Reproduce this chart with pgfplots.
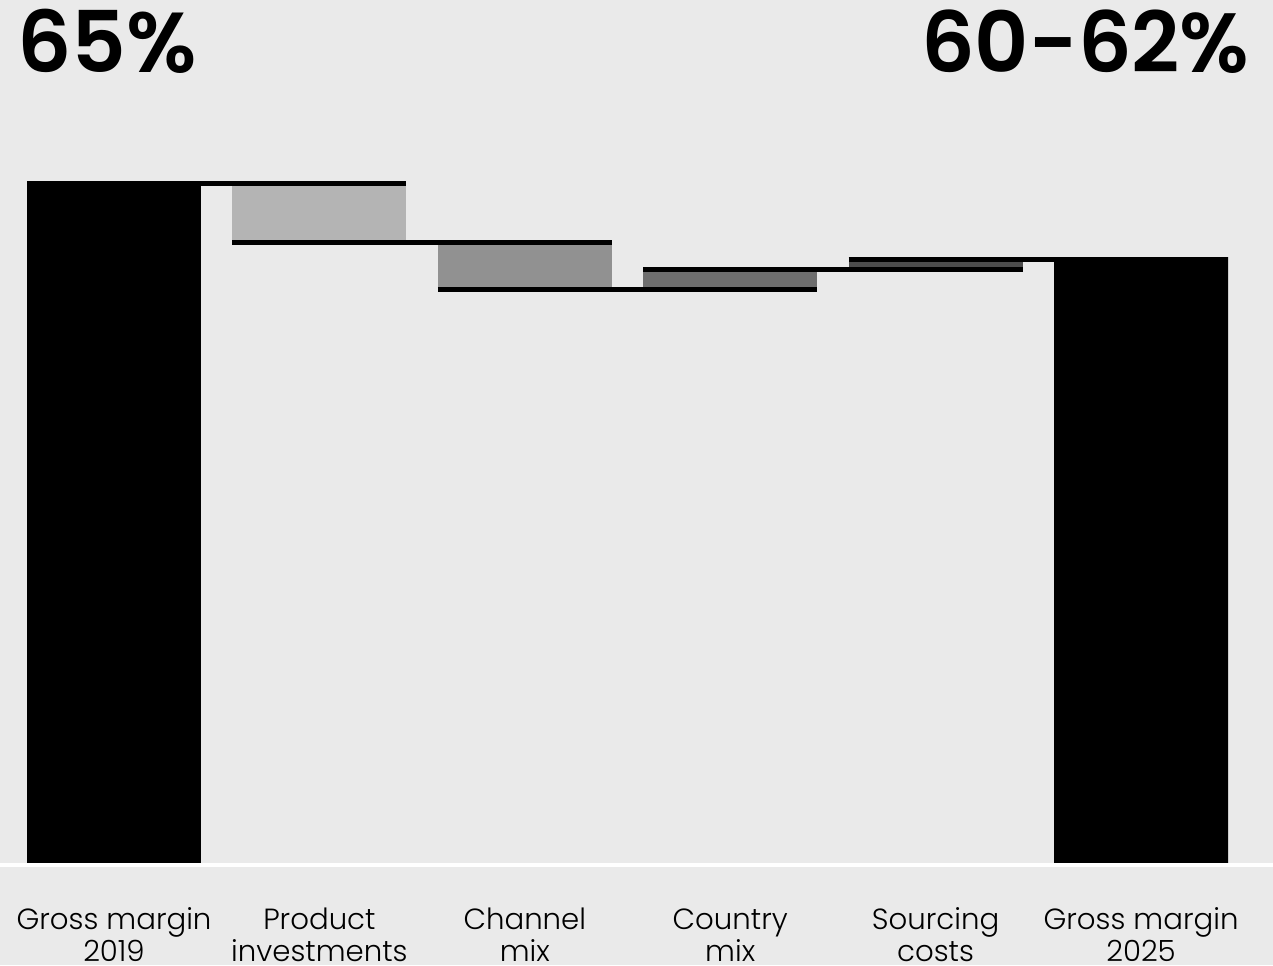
\documentclass[border=0pt]{standalone}
\usepackage{pgfplots}
\usepackage{pgfplotstable}
\pgfplotsset{compat=1.18}
\usetikzlibrary{backgrounds}
\usepackage{fontspec}
\setmainfont{Poppins}[UprightFont={* Light}, BoldFont={* SemiBold}]

\definecolor{bg}{RGB}{234,234,234}
\definecolor{prodc}{RGB}{180,180,180}
\definecolor{chanc}{RGB}{145,145,145}
\definecolor{ctryc}{RGB}{110,110,110}
\definecolor{srcc}{RGB}{76,76,76}

% waterfall: invisible base + visible segment per category (gross margin, %)
\pgfplotstableread{
x base  total prod chan ctry src
0 0     65    0    0    0    0
1 61.1  0     3.9  0    0    0
2 58.05 0     0    3.05 0    0
3 58.05 0     0    0    1.3  0
4 59.35 0     0    0    0    0.65
5 0     60    0    0    0    0
}\bridge

\begin{document}
\begin{tikzpicture}
\pgfplotsset{gm/.style={
  scale only axis,
  width=636.5pt, height=431pt,
  xmin=-0.555, xmax=5.6426, ymin=20, ymax=77,
}}

\begin{axis}[gm,
  ybar stacked, bar width=0.847,
  axis line style={draw=none}, major tick length=0pt,
  ytick=\empty, xtick={0,...,5},
  xticklabels={Gross margin\\2019, Product\\investments, Channel\\mix,
               Country\\mix, Sourcing\\costs, Gross margin\\2025},
  xticklabel style={align=center, anchor=base, yshift=-49.85pt,
    font=\fontsize{14.6}{16.2}\selectfont},
]
\addplot[draw=none, fill=none] table[x=x, y=base] {\bridge};
\addplot[draw=none, fill=black] table[x=x, y=total] {\bridge};
\addplot[draw=none, fill=prodc] table[x=x, y=prod] {\bridge};
\addplot[draw=none, fill=chanc] table[x=x, y=chan] {\bridge};
\addplot[draw=none, fill=ctryc] table[x=x, y=ctry] {\bridge};
\addplot[draw=none, fill=srcc] table[x=x, y=src] {\bridge};
\end{axis}

% step connectors at each running level
\begin{axis}[gm, hide axis]
\addplot[black, no markers, line width=2.5pt, yshift=-1.25pt] coordinates {(-0.4235,65)    (1.4235,65)};
\addplot[black, no markers, line width=2.5pt, yshift=-1.25pt] coordinates {(0.5765,61.1)   (2.4235,61.1)};
\addplot[black, no markers, line width=2.5pt, yshift=-1.25pt] coordinates {(1.5765,58.05)  (3.4235,58.05)};
\addplot[black, no markers, line width=2.5pt, yshift=-1.25pt] coordinates {(2.5765,59.35)  (4.4235,59.35)};
\addplot[black, no markers, line width=2.5pt, yshift=-1.25pt] coordinates {(3.5765,60)     (5.4235,60)};
\end{axis}

\begin{scope}[shift={(current axis.south west)}, x=1pt, y=1pt]
  \begin{pgfonlayer}{background}
    \fill[bg] (0,-51.5) rectangle (636.5,431);
  \end{pgfonlayer}
  \draw[white, line width=2.25pt] (0,-1.5) -- (636.5,-1.5);
  \node[anchor=base west, inner sep=0pt, font=\bfseries\fontsize{42.5}{42.5}\selectfont]
    at (8.5,394.65) {65\%};
  \node[anchor=base east, inner sep=0pt, font=\bfseries\fontsize{42}{42}\selectfont]
    at (625,394.65) {60-62\%};
  \pgfresetboundingbox
  \useasboundingbox (0,-51.5) rectangle (636.5,431);
\end{scope}
\end{tikzpicture}
\end{document}
